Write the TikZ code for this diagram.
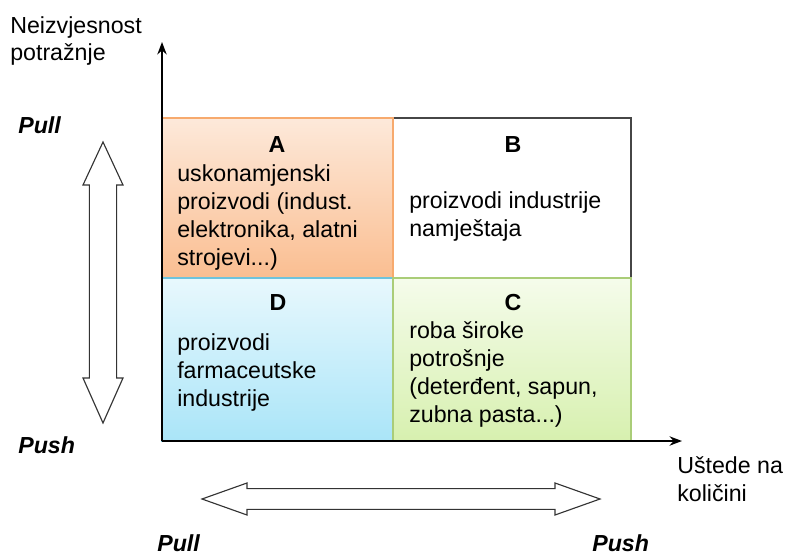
\documentclass[tikz,border=0pt]{standalone}
\usepackage{fontspec}
\setmainfont{Liberation Sans}
\usetikzlibrary{arrows.meta}
\usetikzlibrary{positioning}
\definecolor{qatop}  {RGB}{253,233,218}
\definecolor{qabot}  {RGB}{250,190,145}
\definecolor{qaline} {RGB}{247,170,110}
\definecolor{qbline} {RGB}{70,70,70}
\definecolor{qctop}  {RGB}{245,252,235}
\definecolor{qcbot}  {RGB}{215,240,175}
\definecolor{qcline} {RGB}{170,205,120}
\definecolor{qdtop}  {RGB}{232,248,253}
\definecolor{qdbot}  {RGB}{170,229,248}
\definecolor{qdline} {RGB}{110,195,220}

\begin{document}
\begin{tikzpicture}[
    txt/.style={font=\fontsize{16.5}{19.9}\selectfont,
                inner sep=0pt, align=left, anchor=base west},
    head/.style={font=\fontsize{16.5}{19.9}\selectfont\bfseries,
                 inner sep=0pt, anchor=base},
    dirlabel/.style={font=\fontsize{16.5}{19.9}\selectfont\bfseries\itshape,
                     inner sep=0pt, anchor=base west},
    quad/.style={rectangle, inner sep=0pt, outer sep=0pt, line width=0.9pt},
    blockarrow/.style={draw=black!80, fill=white, line width=0.8pt},
  ]
            \useasboundingbox (0,0) rectangle (19.75,13.875);

            % quadrants
            \node (qB)
              [quad, anchor=south west,
               fill=white, draw=qbline,
               minimum width=5.95cm, minimum height=4cm]
              at (9.825,6.925) {};
            \node (qA)
              [quad, left=0pt of qB,
               top color=qatop, bottom color=qabot, draw=qaline,
               minimum width=5.775cm, minimum height=4cm]
              {};
            \node (qD)
              [quad, below=0pt of qA,
               top color=qdtop, bottom color=qdbot, draw=qdline,
               minimum width=5.775cm, minimum height=4.075cm]
              {};
            \node (qC)
              [quad, right=0pt of qD,
               top color=qctop, bottom color=qcbot, draw=qcline,
               minimum width=5.95cm, minimum height=4.075cm]
              {};

            % quadrant texts (base = last line)
            \node (hA) [head] at (6.925,10.06) {A};
            \node (tA) [txt] at (4.425,7.25)
              {uskonamjenski\\proizvodi (indust.\\elektronika, alatni\\strojevi...)};
            \node (hB) [head] at (12.825,10.06) {B};
            \node (tB) [txt] at (10.225,7.975)
              {proizvodi industrije\\namještaja};
            \node (hC) [head] at (12.825,6.125) {C};
            \node (tC) [txt] at (10.225,3.325)
              {roba široke\\potrošnje\\(deterđent, sapun,\\zubna pasta...)};
            \node (hD) [head] at (6.95,6.125) {D};
            \node (tD) [txt] at (4.425,3.725)
              {proizvodi\\farmaceutske\\industrije};

            % axes
            \coordinate (origin) at (4.05,2.85);
            \coordinate (ytop) at (4.05,12.825);
            \coordinate (xend) at (17.05,2.85);
            \path [-Stealth, line width=1.3pt]
              (origin) edge (ytop)
                       edge (xend)
              ;

            % axis labels
            \node (ylabel) [txt] at (0.25,12.35) {Neizvjesnost\\potražnje};
            \node (xlabel) [txt] at (16.925,1.35) {Uštede na\\količini};

            % pull / push arrows
            \draw [blockarrow]
              (2.575,10.325) -- (3.075,9.25) -- (2.915,9.25) -- (2.915,4.425)
              -- (3.075,4.425) -- (2.575,3.3) -- (2.075,4.425) -- (2.235,4.425)
              -- (2.235,9.25) -- (2.075,9.25) -- cycle;
            \draw [blockarrow]
              (5.05,1.4) -- (6.175,1.8) -- (6.175,1.66) -- (13.875,1.66)
              -- (13.875,1.8) -- (15.0,1.4) -- (13.875,1.0) -- (13.875,1.14)
              -- (6.175,1.14) -- (6.175,1.0) -- cycle;
            \node (pullV) [dirlabel] at (0.45,10.525) {Pull};
            \node (pushV) [dirlabel] at (0.45,2.55) {Push};
            \node (pullH) [dirlabel] at (3.925,0.1) {Pull};
            \node (pushH) [dirlabel] at (14.8,0.1) {Push};
\end{tikzpicture}
\end{document}
